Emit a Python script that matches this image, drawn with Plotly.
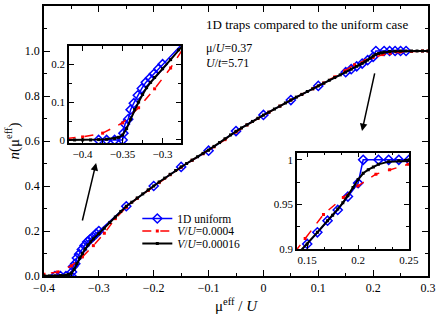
import plotly.graph_objects as go

# ---- data ----
blue_x = [-0.38, -0.37, -0.36, -0.35, -0.349, -0.347, -0.343, -0.340, -0.336, -0.331, -0.326,
          -0.321, -0.316, -0.311, -0.305, -0.300, -0.25, -0.20, -0.15, -0.10, -0.05, 0.0,
          0.05, 0.10, 0.15, 0.16, 0.17, 0.18, 0.19, 0.20, 0.205, 0.22, 0.23, 0.24, 0.25, 0.26]
blue_y = [0, 0, 0, 0, 0.018, 0.042, 0.055, 0.080, 0.097, 0.118, 0.136,
          0.152, 0.163, 0.174, 0.188, 0.20, 0.31, 0.40, 0.485, 0.557, 0.644, 0.716,
          0.782, 0.845, 0.906, 0.919, 0.932, 0.944, 0.959, 0.974, 1.0, 1.0, 1.0, 1.0, 1.0, 1.0]

red_x = [-0.42, -0.40, -0.375, -0.35, -0.33, -0.31, -0.29, -0.27, -0.25, -0.23, -0.21, -0.19,
         -0.17, -0.15, -0.13, -0.11, -0.09, -0.07, -0.05, -0.03, -0.01, 0.01, 0.03, 0.05,
         0.07, 0.09, 0.11, 0.13, 0.148, 0.166, 0.1855, 0.20, 0.2175, 0.231, 0.249, 0.27,
         0.29, 0.30]
red_y = [0.004, 0.008, 0.018, 0.045, 0.085, 0.135, 0.19, 0.255, 0.305, 0.345, 0.38, 0.415,
         0.45, 0.483, 0.514, 0.543, 0.574, 0.606, 0.64, 0.671, 0.70, 0.728, 0.755, 0.782,
         0.807, 0.832, 0.858, 0.885, 0.912, 0.939, 0.958, 0.971, 0.984, 0.989, 0.995, 0.998,
         1.0, 1.0]

black_x = [-0.42, -0.41, -0.40, -0.39, -0.38, -0.37, -0.36, -0.355, -0.35, -0.345, -0.34,
           -0.335, -0.33, -0.325, -0.32, -0.315, -0.31, -0.30, -0.29, -0.28, -0.27, -0.26,
           -0.25, -0.24, -0.23, -0.22, -0.21, -0.20, -0.19, -0.18, -0.17, -0.16, -0.15,
           -0.14, -0.13, -0.12, -0.11, -0.10, -0.09, -0.08, -0.07, -0.06, -0.05, -0.04,
           -0.03, -0.02, -0.01, 0.0, 0.01, 0.02, 0.03, 0.04, 0.05, 0.06, 0.07, 0.08, 0.09,
           0.10, 0.11, 0.12, 0.13, 0.14, 0.15, 0.16, 0.17, 0.175, 0.18, 0.185, 0.19, 0.195,
           0.20, 0.205, 0.21, 0.215, 0.22, 0.23, 0.24, 0.25, 0.26, 0.27, 0.28, 0.29, 0.30]
black_y = [0.0, 0.0, 0.0, 0.0, 0.001, 0.002, 0.004, 0.007, 0.013, 0.03, 0.055,
           0.08, 0.10, 0.12, 0.138, 0.152, 0.165, 0.188, 0.212, 0.238, 0.262, 0.287,
           0.31, 0.328, 0.347, 0.365, 0.383, 0.40, 0.418, 0.435, 0.452, 0.469, 0.485,
           0.50, 0.515, 0.53, 0.545, 0.559, 0.576, 0.593, 0.61, 0.627, 0.643, 0.658,
           0.672, 0.687, 0.701, 0.715, 0.728, 0.742, 0.755, 0.769, 0.782, 0.795, 0.807,
           0.82, 0.832, 0.845, 0.857, 0.87, 0.882, 0.894, 0.906, 0.919, 0.932, 0.938,
           0.945, 0.952, 0.96, 0.969, 0.978, 0.985, 0.989, 0.992, 0.995, 0.998, 0.999,
           1.0, 1.0, 1.0, 1.0, 1.0, 1.0]

names = ["1D uniform", "<i>V</i>/<i>U</i>=0.0004", "<i>V</i>/<i>U</i>=0.00016"]

FONT = "Liberation Serif, Times New Roman, serif"

fig = go.Figure()

def add_series(xa, ya, show):
    fig.add_trace(go.Scatter(
        x=blue_x, y=blue_y, xaxis=xa, yaxis=ya, mode="lines+markers", name=names[0],
        showlegend=show, legend="legend",
        line=dict(color="#0000ff", width=1.5),
        marker=dict(symbol="diamond-open", size=7, color="#0000ff", line=dict(width=1.5))))
    fig.add_trace(go.Scatter(
        x=red_x, y=red_y, xaxis=xa, yaxis=ya, mode="lines+markers", name=names[1],
        showlegend=show, legend="legend2",
        line=dict(color="#ff0000", width=1.5, dash="dash"),
        marker=dict(symbol="square", size=3, color="#ff0000")))
    fig.add_trace(go.Scatter(
        x=black_x, y=black_y, xaxis=xa, yaxis=ya, mode="lines+markers", name=names[2],
        showlegend=show, legend="legend3",
        line=dict(color="#000000", width=2),
        marker=dict(symbol="square", size=3, color="#000000")))

add_series("x", "y", True)
add_series("x2", "y2", False)
add_series("x3", "y3", False)

axis_common = dict(showline=True, linecolor="black", linewidth=1.5, mirror="ticks",
                   ticks="inside", tickcolor="black", showgrid=False, zeroline=False,
                   automargin=False)

leg_common = dict(xanchor="left", yanchor="middle", bgcolor="rgba(0,0,0,0)",
                  font=dict(size=11.5), borderwidth=0, itemwidth=30, x=0.243)

fig.update_layout(
    width=436, height=314,
    margin=dict(l=44, r=8, t=6, b=38),
    paper_bgcolor="white", plot_bgcolor="white",
    font=dict(family=FONT, size=12, color="black"),
    xaxis=dict(range=[-0.4, 0.3], dtick=0.1, tick0=0, ticklen=6, tickwidth=1,
               minor=dict(dtick=0.05, ticklen=3, ticks="inside", tickcolor="black"),
               tickfont=dict(size=12), domain=[0, 1],
               title=dict(text="μ<sup>eff</sup> / <i>U</i>", font=dict(size=15), standoff=9),
               **axis_common),
    yaxis=dict(range=[0, 1.2], dtick=0.2, tick0=0, tickformat=".1f", ticklen=6, tickwidth=1,
               minor=dict(dtick=0.1, ticklen=3, ticks="inside", tickcolor="black"),
               tickfont=dict(size=12), domain=[0, 1],
               title=dict(text="<i>n</i>(μ<sup>eff</sup>)", font=dict(size=15), standoff=2),
               **axis_common),
    xaxis2=dict(range=[-0.417, -0.277], dtick=0.05, tick0=0, ticklen=5, tickwidth=1,
                minor=dict(dtick=0.025, ticklen=3, ticks="inside", tickcolor="black"),
                tickfont=dict(size=11), domain=[0.0651, 0.3568], anchor="y2",
                **axis_common),
    yaxis2=dict(range=[-0.008, 0.248], dtick=0.1, tick0=0, ticklen=5, tickwidth=1,
                minor=dict(dtick=0.05, ticklen=3, ticks="inside", tickcolor="black"),
                tickfont=dict(size=11), domain=[0.4926, 0.8519], anchor="x2",
                **axis_common),
    xaxis3=dict(range=[0.14, 0.25], dtick=0.05, tick0=0, ticklen=5, tickwidth=1,
                minor=dict(dtick=0.05 / 3, tick0=0.15, ticklen=3, ticks="inside", tickcolor="black"),
                tickfont=dict(size=11), domain=[0.6589, 0.9505], anchor="y3",
                **axis_common),
    yaxis3=dict(range=[0.9, 1.008], tickvals=[0.9, 0.95, 1.0], ticktext=["0.9", "0.95", "1"],
                ticklen=5, tickwidth=1,
                minor=dict(dtick=0.025, ticklen=3, ticks="inside", tickcolor="black"),
                tickfont=dict(size=11), domain=[0.0989, 0.4567], anchor="x3",
                **axis_common),
    legend=dict(y=0.213, **leg_common),
    legend2=dict(y=0.1667, **leg_common),
    legend3=dict(y=0.120, **leg_common),
    showlegend=True,
)

fig.add_annotation(x=0.4167, y=0.93, xref="paper", yref="paper", xanchor="left", yanchor="middle",
                   text="1D traps compared to the uniform case", showarrow=False,
                   font=dict(size=13))
fig.add_annotation(x=0.4167, y=0.843, xref="paper", yref="paper", xanchor="left", yanchor="middle",
                   text="μ/<i>U</i>=0.37", showarrow=False, font=dict(size=12))
fig.add_annotation(x=0.4167, y=0.789, xref="paper", yref="paper", xanchor="left", yanchor="middle",
                   text="<i>U</i>/<i>t</i>=5.71", showarrow=False, font=dict(size=12))

# arrows pointing to insets
fig.add_annotation(x=-0.305, y=0.502, ax=-0.3307, ay=0.24, xref="x", yref="y", axref="x", ayref="y",
                   text="", showarrow=True, arrowhead=2, arrowsize=1, arrowwidth=1.5, arrowcolor="black")
fig.add_annotation(x=0.1797, y=0.644, ax=0.2034, ay=0.907, xref="x", yref="y", axref="x", ayref="y",
                   text="", showarrow=True, arrowhead=2, arrowsize=1, arrowwidth=1.5, arrowcolor="black")

fig.write_html("out.html", config={"displayModeBar": False},
               post_script="document.body.style.margin='0px';")
